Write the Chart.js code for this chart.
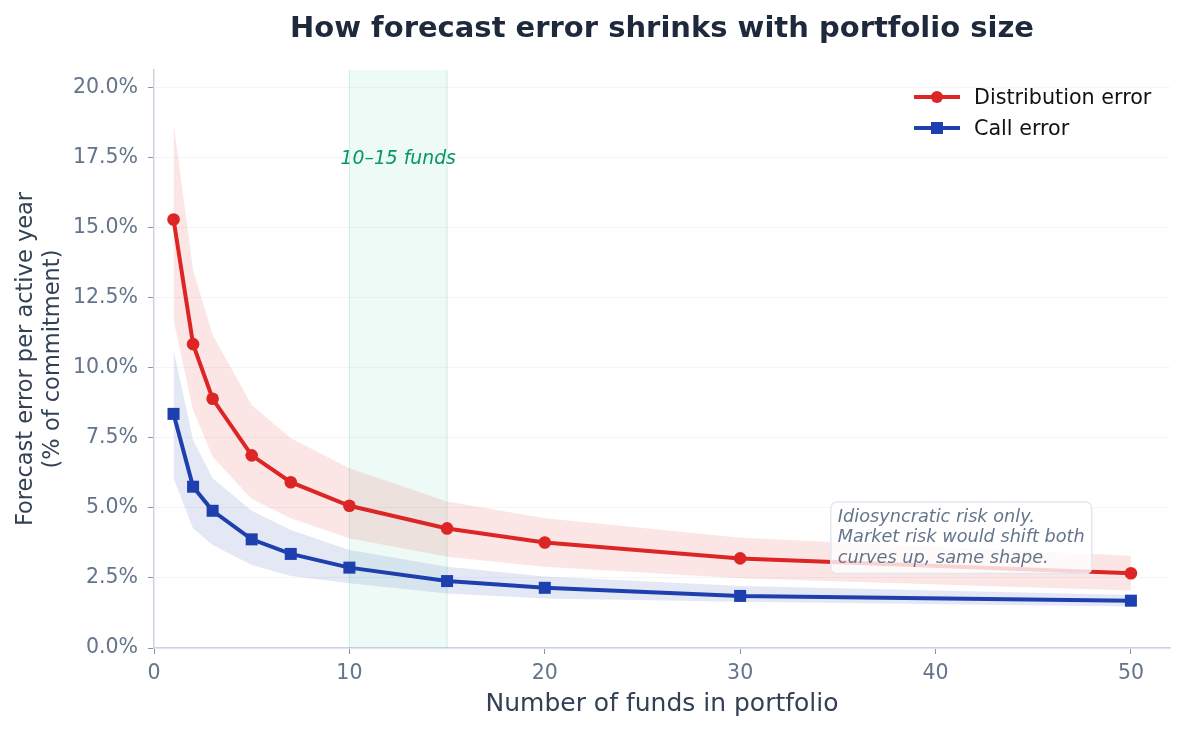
<!DOCTYPE html>
<html lang="en">
<head>
  <meta charset="UTF-8">
  <title>Forecast error vs portfolio size</title>
  <script src="https://cdn.jsdelivr.net/npm/chart.js"></script>
  <style>
    body { margin: 0; background: #fff; }
    #wrap { width: 1186px; height: 730px; }
  </style>
</head>
<body>
  <div id="wrap"><canvas id="errChart" width="1186" height="730"></canvas></div>
  <script>
    // values in % of commitment
    const fundCounts = [1, 2, 3, 5, 7, 10, 15, 20, 30, 50];
    const distError = [15.3, 10.85, 8.9, 6.88, 5.92, 5.08, 4.27, 3.77, 3.2, 2.67];
    const distUpper = [18.74, 13.5, 11.18, 8.68, 7.49, 6.42, 5.23, 4.63, 3.94, 3.29];
    const distLower = [11.7, 8.5, 6.83, 5.32, 4.63, 3.92, 3.26, 2.9, 2.49, 2.05];
    const callError = [8.36, 5.76, 4.9, 3.88, 3.36, 2.87, 2.39, 2.15, 1.86, 1.69];
    const callUpper = [10.64, 7.43, 6.06, 4.9, 4.21, 3.5, 2.9, 2.55, 2.21, 1.89];
    const callLower = [6.06, 4.27, 3.68, 2.96, 2.57, 2.31, 1.95, 1.77, 1.65, 1.48];
    const yTicks = [0, 2.5, 5, 7.5, 10, 12.5, 15, 17.5, 20];
    const xTicks = [0, 10, 20, 30, 40, 50];
    const sweetSpot = [10, 15];
    const noteLines = ['Idiosyncratic risk only.', 'Market risk would shift both', 'curves up, same shape.'];

    const FONT = "'DejaVu Sans', sans-serif";
    const RED = '#dc2626';
    const BLUE = '#1e40af';

    function pts(ys) {
      return fundCounts.map((x, i) => ({ x: x, y: ys[i] }));
    }

    // title, shaded 10-15 band, note box and legend
    const extras = {
      id: 'extras',
      beforeDatasetsDraw(chart) {
        const { ctx, chartArea: a, scales: { x } } = chart;
        const x0 = x.getPixelForValue(sweetSpot[0]);
        const x1 = x.getPixelForValue(sweetSpot[1]);
        ctx.save();
        ctx.fillStyle = 'rgba(16,185,129,0.07)';
        ctx.fillRect(x0, a.top, x1 - x0, a.bottom - a.top);
        ctx.strokeStyle = 'rgba(16,185,129,0.18)';
        ctx.lineWidth = 1;
        ctx.beginPath();
        ctx.moveTo(x0, a.top); ctx.lineTo(x0, a.bottom);
        ctx.moveTo(x1, a.top); ctx.lineTo(x1, a.bottom);
        ctx.stroke();
        ctx.restore();
      },
      afterDraw(chart) {
        const { ctx, chartArea: a, scales: { x, y } } = chart;
        ctx.save();
        // title
        ctx.fillStyle = '#1e293b';
        ctx.font = 'bold 29px ' + FONT;
        ctx.textAlign = 'center';
        ctx.textBaseline = 'middle';
        ctx.fillText('How forecast error shrinks with portfolio size', (a.left + a.right) / 2, 29);

        // band label
        ctx.fillStyle = '#059669';
        ctx.font = 'italic 18.8px ' + FONT;
        ctx.fillText('10\u201315 funds', x.getPixelForValue((sweetSpot[0] + sweetSpot[1]) / 2), y.getPixelForValue(17.5) + 1);

        // note box
        ctx.font = 'italic 17.7px ' + FONT;
        const tx = x.getPixelForValue(35);
        const ty = y.getPixelForValue(5.0);
        const lh = 20.5;
        let w = 0;
        noteLines.forEach(l => { w = Math.max(w, ctx.measureText(l).width); });
        const bx = tx - 7, by = ty - 6, bw = w + 14, bh = lh * noteLines.length + 10;
        ctx.beginPath();
        ctx.roundRect(bx, by, bw, bh, 6);
        ctx.fillStyle = 'rgba(255,255,255,0.8)';
        ctx.fill();
        ctx.strokeStyle = '#e2e8f0';
        ctx.lineWidth = 1.5;
        ctx.stroke();
        ctx.fillStyle = '#64748b';
        ctx.textAlign = 'left';
        noteLines.forEach((l, i) => ctx.fillText(l, tx, ty + 9 + i * lh));

        // legend
        const items = [
          { label: 'Distribution error', color: RED, style: 'circle' },
          { label: 'Call error', color: BLUE, style: 'rect' }
        ];
        items.forEach((it, i) => {
          const ly = 97 + i * 31;
          ctx.strokeStyle = it.color;
          ctx.lineWidth = 4;
          ctx.beginPath();
          ctx.moveTo(914, ly); ctx.lineTo(960, ly);
          ctx.stroke();
          ctx.fillStyle = it.color;
          if (it.style === 'circle') {
            ctx.beginPath(); ctx.arc(937, ly, 6, 0, Math.PI * 2); ctx.fill();
          } else {
            ctx.fillRect(931, ly - 6, 12, 12);
          }
          ctx.fillStyle = '#111';
          ctx.font = '20.7px ' + FONT;
          ctx.textBaseline = 'middle';
          ctx.fillText(it.label, 974, ly + 2);
        });
        ctx.restore();
      }
    };

    const band = (data, color, fill) => ({
      data: pts(data),
      borderWidth: 0,
      pointRadius: 0,
      backgroundColor: color,
      fill: fill,
      order: 2
    });

    new Chart(document.getElementById('errChart'), {
      type: 'line',
      data: {
        datasets: [
          {
            label: 'Distribution error',
            data: pts(distError),
            borderColor: RED,
            backgroundColor: RED,
            borderWidth: 4,
            pointRadius: 6.3,
            pointBorderWidth: 0,
            pointStyle: 'circle',
            fill: false,
            order: 0
          },
          {
            label: 'Call error',
            data: pts(callError),
            borderColor: BLUE,
            backgroundColor: BLUE,
            borderWidth: 4,
            pointRadius: 8.5,
            pointBorderWidth: 0,
            pointStyle: 'rect',
            fill: false,
            order: 1
          },
          band(distUpper, 'rgba(220,38,38,0.12)', false),
          band(distLower, 'rgba(220,38,38,0.12)', '-1'),
          band(callUpper, 'rgba(30,64,175,0.12)', false),
          band(callLower, 'rgba(30,64,175,0.12)', '-1')
        ]
      },
      options: {
        responsive: false,
        devicePixelRatio: 1,
        animation: false,
        layout: { padding: { top: 70, right: 16, left: 0, bottom: 0 } },
        plugins: {
          legend: { display: false },
          tooltip: { enabled: false }
        },
        scales: {
          x: {
            type: 'linear',
            min: 0,
            max: 52,
            afterFit(s) { s.height = 82; },
            afterBuildTicks(s) { s.ticks = xTicks.map(v => ({ value: v })); },
            ticks: { color: '#64748b', font: { family: FONT, size: 20.5 }, padding: 7 },
            grid: { drawOnChartArea: false, tickColor: '#8a94a6', tickLength: 6 },
            border: { color: '#cbd5e1', width: 1.5 },
            title: {
              display: true,
              text: 'Number of funds in portfolio',
              color: '#334155',
              font: { family: FONT, size: 25 },
              padding: { top: 4, bottom: 11 }
            }
          },
          y: {
            min: 0,
            max: 20.64,
            afterFit(s) { s.width = 154; },
            afterBuildTicks(s) { s.ticks = yTicks.map(v => ({ value: v })); },
            ticks: {
              color: '#64748b',
              font: { family: FONT, size: 20.5 },
              padding: 10,
              callback: v => v.toFixed(1) + '%'
            },
            grid: { color: '#f3f5f8', tickColor: '#8a94a6', tickLength: 6 },
            border: { color: '#cbd5e1', width: 1.5 },
            title: {
              display: true,
              text: ['Forecast error per active year', '(% of commitment)'],
              color: '#334155',
              font: { family: FONT, size: 22.5 },
              padding: { top: 13, bottom: 0 }
            }
          }
        }
      },
      plugins: [extras]
    });
  </script>
</body>
</html>
